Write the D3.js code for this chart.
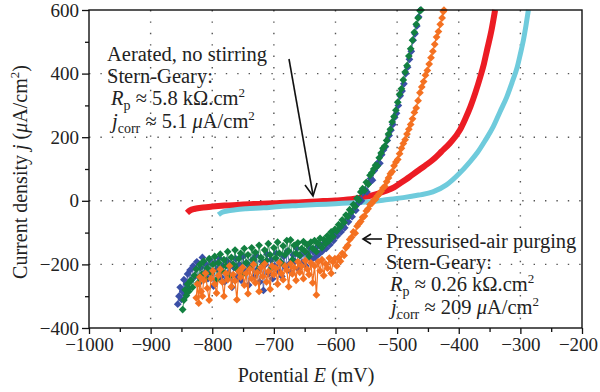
<!DOCTYPE html>
<html><head><meta charset="utf-8">
<script src="https://cdn.jsdelivr.net/npm/d3@7"></script>
<style>
body{margin:0;background:#fff;}
svg{display:block;font-family:"Liberation Serif","Times New Roman",serif;}
</style></head>
<body>
<svg id="c" width="600" height="392"></svg>
<script>
// ---- data ----
const xTicks = [-1000,-900,-800,-700,-600,-500,-400,-300,-200];
const yTicks = [-400,-200,0,200,400,600];
const xGrid = [-900,-800,-700,-600,-500,-400,-300];
const yGrid = [-200,0,200,400];

const red = [[-841,-38],[-836,-30],[-828,-25],[-815,-21],[-800,-18],[-780,-15],[-760,-13],[-740,-11],[-720,-9],[-700,-8],[-680,-6],[-660,-5],[-640,-3],[-620,-1],[-600,1],[-580,4],[-565,8],[-549,13],[-535,20],[-520,30],[-505,42],[-495,55],[-480,75],[-468,92],[-455,110],[-442,129],[-428,155],[-414,182],[-398,223],[-390,255],[-381,296],[-373,340],[-365,390],[-359,432],[-354,475],[-347,535],[-341,600]];
const cyan = [[-790,-44],[-785,-37],[-776,-32],[-762,-28],[-745,-25],[-717,-22],[-690,-18],[-660,-15],[-630,-12],[-600,-9],[-570,-6],[-540,-2],[-515,4],[-490,10],[-465,18],[-442,28],[-420,50],[-398,88],[-384,118],[-370,151],[-357,190],[-344,233],[-333,280],[-322,327],[-313,375],[-305,421],[-300,462],[-295,506],[-291,550],[-287,600]];
const blue = [[-856,-325],[-854,-300],[-852,-272],[-850,-310],[-848,-285],[-846,-248],[-844,-295],[-842,-262],[-840,-230],[-838,-275],[-836,-218],[-834,-250],[-831,-205],[-828,-238],[-825,-192],[-822,-260],[-819,-210],[-816,-178],[-813,-228],[-810,-200],[-807,-245],[-804,-185],[-801,-222],[-798,-268],[-795,-195],[-792,-215],[-789,-180],[-786,-240],[-783,-205],[-780,-255],[-777,-188],[-774,-228],[-771,-198],[-768,-272],[-765,-210],[-762,-182],[-759,-238],[-756,-200],[-753,-250],[-750,-175],[-747,-222],[-744,-196],[-741,-265],[-738,-208],[-735,-185],[-732,-240],[-729,-172],[-726,-215],[-723,-255],[-720,-190],[-717,-282],[-714,-200],[-711,-168],[-708,-230],[-705,-185],[-702,-245],[-699,-205],[-696,-165],[-693,-220],[-690,-192],[-687,-238],[-684,-175],[-681,-210],[-678,-158],[-675,-198],[-672,-225],[-669,-170],[-666,-190],[-663,-150],[-660,-215],[-657,-172],[-654,-195],[-651,-160],[-648,-205],[-645,-168],[-642,-148],[-639,-185],[-636,-160],[-633,-178],[-630,-145],[-627,-168],[-624,-140],[-621,-158],[-618,-132],[-615,-150],[-612,-125],[-609,-138],[-606,-115],[-603,-125],[-600,-105],[-597,-110],[-594,-92],[-591,-98],[-588,-78],[-585,-85],[-582,-62],[-579,-66],[-576,-45],[-573,-50],[-570,-28],[-567,-30],[-564,-10],[-561,5],[-558,0],[-555,25],[-552,35],[-549,28],[-546,55],[-543,70],[-540,65],[-537,95],[-534,105],[-531,120],[-528,118],[-525,145],[-522,160],[-519,170],[-516,190],[-513,205],[-510,222],[-507,240],[-504,262],[-501,275],[-498,300],[-495,330],[-492,345],[-489,368],[-486,400],[-483,420],[-480,445],[-477,470],[-474,505],[-471,525],[-468,550],[-465,578],[-462,600]];
const green = [[-848,-342],[-846,-312],[-844,-280],[-842,-298],[-840,-262],[-838,-285],[-835,-250],[-832,-272],[-829,-235],[-826,-215],[-823,-258],[-820,-200],[-817,-232],[-814,-190],[-811,-245],[-808,-212],[-805,-182],[-802,-228],[-799,-200],[-796,-175],[-793,-248],[-790,-195],[-787,-168],[-784,-220],[-781,-185],[-778,-205],[-775,-160],[-772,-238],[-769,-178],[-766,-200],[-763,-155],[-760,-215],[-757,-182],[-754,-165],[-751,-232],[-748,-150],[-745,-195],[-742,-170],[-739,-212],[-736,-148],[-733,-185],[-730,-162],[-727,-225],[-724,-140],[-721,-178],[-718,-200],[-715,-155],[-712,-188],[-709,-135],[-706,-170],[-703,-210],[-700,-148],[-697,-180],[-694,-130],[-691,-165],[-688,-195],[-685,-142],[-682,-170],[-679,-125],[-676,-158],[-673,-123],[-670,-185],[-667,-140],[-664,-165],[-661,-132],[-658,-172],[-655,-150],[-652,-128],[-649,-160],[-646,-138],[-643,-175],[-640,-130],[-637,-150],[-634,-125],[-631,-160],[-628,-135],[-625,-118],[-622,-148],[-619,-122],[-616,-135],[-613,-110],[-610,-125],[-607,-98],[-604,-112],[-601,-90],[-598,-95],[-595,-75],[-592,-82],[-589,-60],[-586,-68],[-583,-45],[-580,-50],[-577,-28],[-574,-35],[-571,-12],[-568,-18],[-565,8],[-562,2],[-559,28],[-556,38],[-553,32],[-550,58],[-547,52],[-544,80],[-541,88],[-538,100],[-535,112],[-532,110],[-529,135],[-526,150],[-523,165],[-520,172],[-517,190],[-514,210],[-511,225],[-508,248],[-505,265],[-502,285],[-499,310],[-496,335],[-493,352],[-490,380],[-487,405],[-484,425],[-481,455],[-478,478],[-475,505],[-472,530],[-469,555],[-466,575],[-463,598],[-461,600]];
const orange = [[-826,-305],[-824,-262],[-822,-322],[-820,-240],[-818,-285],[-816,-300],[-814,-250],[-811,-228],[-808,-275],[-805,-312],[-802,-245],[-799,-220],[-796,-262],[-793,-290],[-790,-235],[-787,-215],[-784,-255],[-781,-300],[-778,-228],[-775,-248],[-772,-205],[-769,-270],[-766,-232],[-763,-252],[-760,-311],[-757,-222],[-754,-240],[-751,-210],[-748,-265],[-745,-228],[-742,-292],[-739,-215],[-736,-245],[-733,-200],[-730,-258],[-727,-225],[-724,-285],[-721,-210],[-718,-238],[-715,-198],[-712,-255],[-709,-222],[-706,-278],[-703,-205],[-700,-232],[-697,-212],[-694,-262],[-691,-195],[-688,-228],[-685,-248],[-682,-205],[-679,-218],[-676,-270],[-673,-198],[-670,-230],[-667,-210],[-664,-250],[-661,-192],[-658,-225],[-655,-205],[-652,-245],[-649,-188],[-646,-215],[-643,-232],[-640,-195],[-637,-258],[-634,-205],[-631,-296],[-628,-192],[-625,-220],[-622,-185],[-619,-235],[-616,-198],[-613,-212],[-610,-180],[-607,-228],[-604,-192],[-601,-182],[-598,-205],[-595,-178],[-592,-190],[-589,-165],[-586,-172],[-583,-148],[-580,-140],[-577,-122],[-574,-115],[-571,-98],[-568,-102],[-565,-80],[-562,-72],[-559,-65],[-556,-52],[-553,-48],[-550,-32],[-547,-25],[-544,-12],[-541,-8],[-538,2],[-535,5],[-532,15],[-529,22],[-526,30],[-523,40],[-520,45],[-517,60],[-514,72],[-511,85],[-508,92],[-505,110],[-502,122],[-499,130],[-496,148],[-493,165],[-490,180],[-487,192],[-484,210],[-481,225],[-478,240],[-475,258],[-472,278],[-469,292],[-466,315],[-463,340],[-460,358],[-457,375],[-454,395],[-451,410],[-448,430],[-445,450],[-442,470],[-439,492],[-436,515],[-433,532],[-430,555],[-427,575],[-425,595],[-424,600]];

const colRed = "#ec1c24", colCyan = "#6fcbdc", colBlue = "#3a4fa6", colGreen = "#128040", colOrange = "#f47121";

// ---- layout ----
const svg = d3.select("#c");
const x = d3.scaleLinear().domain([-1000,-200]).range([89,582]);
const y = d3.scaleLinear().domain([-400,600]).range([328,10]);

// gridlines
const g = svg.append("g");
g.selectAll("line.gx").data(xGrid).join("line")
  .attr("x1", d=>x(d)).attr("x2", d=>x(d)).attr("y1", y(600)).attr("y2", y(-400))
  .attr("stroke","#555").attr("stroke-width",1.4).attr("stroke-dasharray","1.4,10");
g.selectAll("line.gy").data(yGrid).join("line")
  .attr("y1", d=>y(d)).attr("y2", d=>y(d)).attr("x1", x(-1000)).attr("x2", x(-200))
  .attr("stroke","#555").attr("stroke-width",1.4).attr("stroke-dasharray","1.4,10");

// thick smooth series
const smooth = d3.line().x(d=>x(d[0])).y(d=>y(d[1])).curve(d3.curveMonotoneX);
svg.append("path").datum(red).attr("d", smooth).attr("fill","none").attr("stroke",colRed).attr("stroke-width",6);
svg.append("path").datum(cyan).attr("d", smooth).attr("fill","none").attr("stroke",colCyan).attr("stroke-width",5);

// noisy scatter series
const line = d3.line().x(d=>x(d[0])).y(d=>y(d[1]));
const sym = d3.symbol(d3.symbolSquare, 30);
function scatter(data, col, lw){
  svg.append("path").datum(data).attr("d", line).attr("fill","none").attr("stroke",col).attr("stroke-width",lw);
  svg.append("g").selectAll("path").data(data).join("path")
    .attr("d", sym).attr("fill", col)
    .attr("transform", d=>`translate(${x(d[0])},${y(d[1])}) rotate(45)`);
}
scatter(blue, colBlue, 0.8);
scatter(green, colGreen, 0.8);
scatter(orange, colOrange, 1.2);

// axes
const fmt = d => d < 0 ? "\u2212" + Math.abs(d) : String(d);
const xAxis = d3.axisBottom(x).tickValues(xTicks).tickFormat(fmt).tickSize(6).tickPadding(4);
const xMinor = d3.axisBottom(x).tickValues(d3.range(-950,-200,100)).tickFormat("").tickSize(4);
const yAxis = d3.axisLeft(y).tickValues(yTicks).tickFormat(fmt).tickSize(7).tickPadding(3);
const yMinor = d3.axisLeft(y).tickValues(d3.range(-300,600,200)).tickFormat("").tickSize(4);

function styleAxis(sel){
  sel.select(".domain").remove();
  sel.selectAll("line").attr("stroke","#111").attr("stroke-width",1.3);
  sel.selectAll("text").attr("font-family","Liberation Serif").attr("font-size",19).attr("fill","#222");
}
const gx = svg.append("g").attr("transform",`translate(0,${y(-400)})`).call(xAxis).call(styleAxis);
gx.selectAll("text").filter(d => d === -200).attr("dx", -4);
svg.append("g").attr("transform",`translate(0,${y(-400)})`).call(xMinor).call(styleAxis);
svg.append("g").attr("transform",`translate(${x(-1000)},0)`).call(yAxis).call(styleAxis);
svg.append("g").attr("transform",`translate(${x(-1000)},0)`).call(yMinor).call(styleAxis);

// frame
svg.append("rect").attr("x",x(-1000)).attr("y",y(600)).attr("width",x(-200)-x(-1000)).attr("height",y(-400)-y(600))
  .attr("fill","none").attr("stroke","#111").attr("stroke-width",1.4);

// axis titles
const xt = svg.append("text").attr("x",306).attr("y",382).attr("text-anchor","middle").attr("font-size",20).attr("fill","#222");
xt.append("tspan").text("Potential ");
xt.append("tspan").attr("font-style","italic").text("E");
xt.append("tspan").text(" (mV)");

const yt = svg.append("text").attr("transform","translate(27,172) rotate(-90)").attr("text-anchor","middle").attr("font-size",20).attr("fill","#222");
yt.append("tspan").text("Current density ");
yt.append("tspan").attr("font-style","italic").text("j");
yt.append("tspan").text(" (");
yt.append("tspan").attr("font-style","italic").text("\u03bc");
yt.append("tspan").text("A/cm");
yt.append("tspan").attr("font-size",13).attr("dy",-8).text("2");
yt.append("tspan").attr("dy",8).text(")");

// annotations
function block(x0, ys, which){
  const fs = 20.5;
  const t = (yy)=>svg.append("text").attr("x",x0).attr("y",yy).attr("font-size",fs).attr("fill","#222");
  t(ys[0]).text(which.title);
  t(ys[1]).text("Stern-Geary:");
  const r = t(ys[2]).attr("x", x0+4);
  r.append("tspan").attr("font-style","italic").text("R");
  r.append("tspan").attr("font-size",14).attr("dy",5).text("p");
  r.append("tspan").attr("dy",-5).text(" \u2248 " + which.rp + " k\u03a9.cm");
  r.append("tspan").attr("font-size",13).attr("dy",-8).text("2");
  const j = t(ys[3]).attr("x", x0+5);
  j.append("tspan").attr("font-style","italic").text("j");
  j.append("tspan").attr("font-size",14).attr("dy",5).text("corr");
  j.append("tspan").attr("dy",-5).text(" \u2248 " + which.jc + " ");
  j.append("tspan").attr("font-style","italic").text("\u03bc");
  j.append("tspan").text("A/cm");
  j.append("tspan").attr("font-size",13).attr("dy",-8).text("2");
}
block(107, [61,83,105,128], {title:"Aerated, no stirring", rp:"5.8", jc:"5.1"});
block(386, [248,269,291,314], {title:"Pressurised-air purging", rp:"0.26", jc:"209"});

// arrows
svg.append("line").attr("x1",289).attr("y1",59).attr("x2",313).attr("y2",195).attr("stroke","#111").attr("stroke-width",1.6);
svg.append("path").attr("d","M305,185 L313,196 L317,183").attr("fill","none").attr("stroke","#111").attr("stroke-width",1.6);
svg.append("line").attr("x1",382).attr("y1",239).attr("x2",363).attr("y2",239).attr("stroke","#111").attr("stroke-width",1.6);
svg.append("path").attr("d","M371,234 L363,239 L371,244").attr("fill","none").attr("stroke","#111").attr("stroke-width",1.6);
</script>
</body></html>
